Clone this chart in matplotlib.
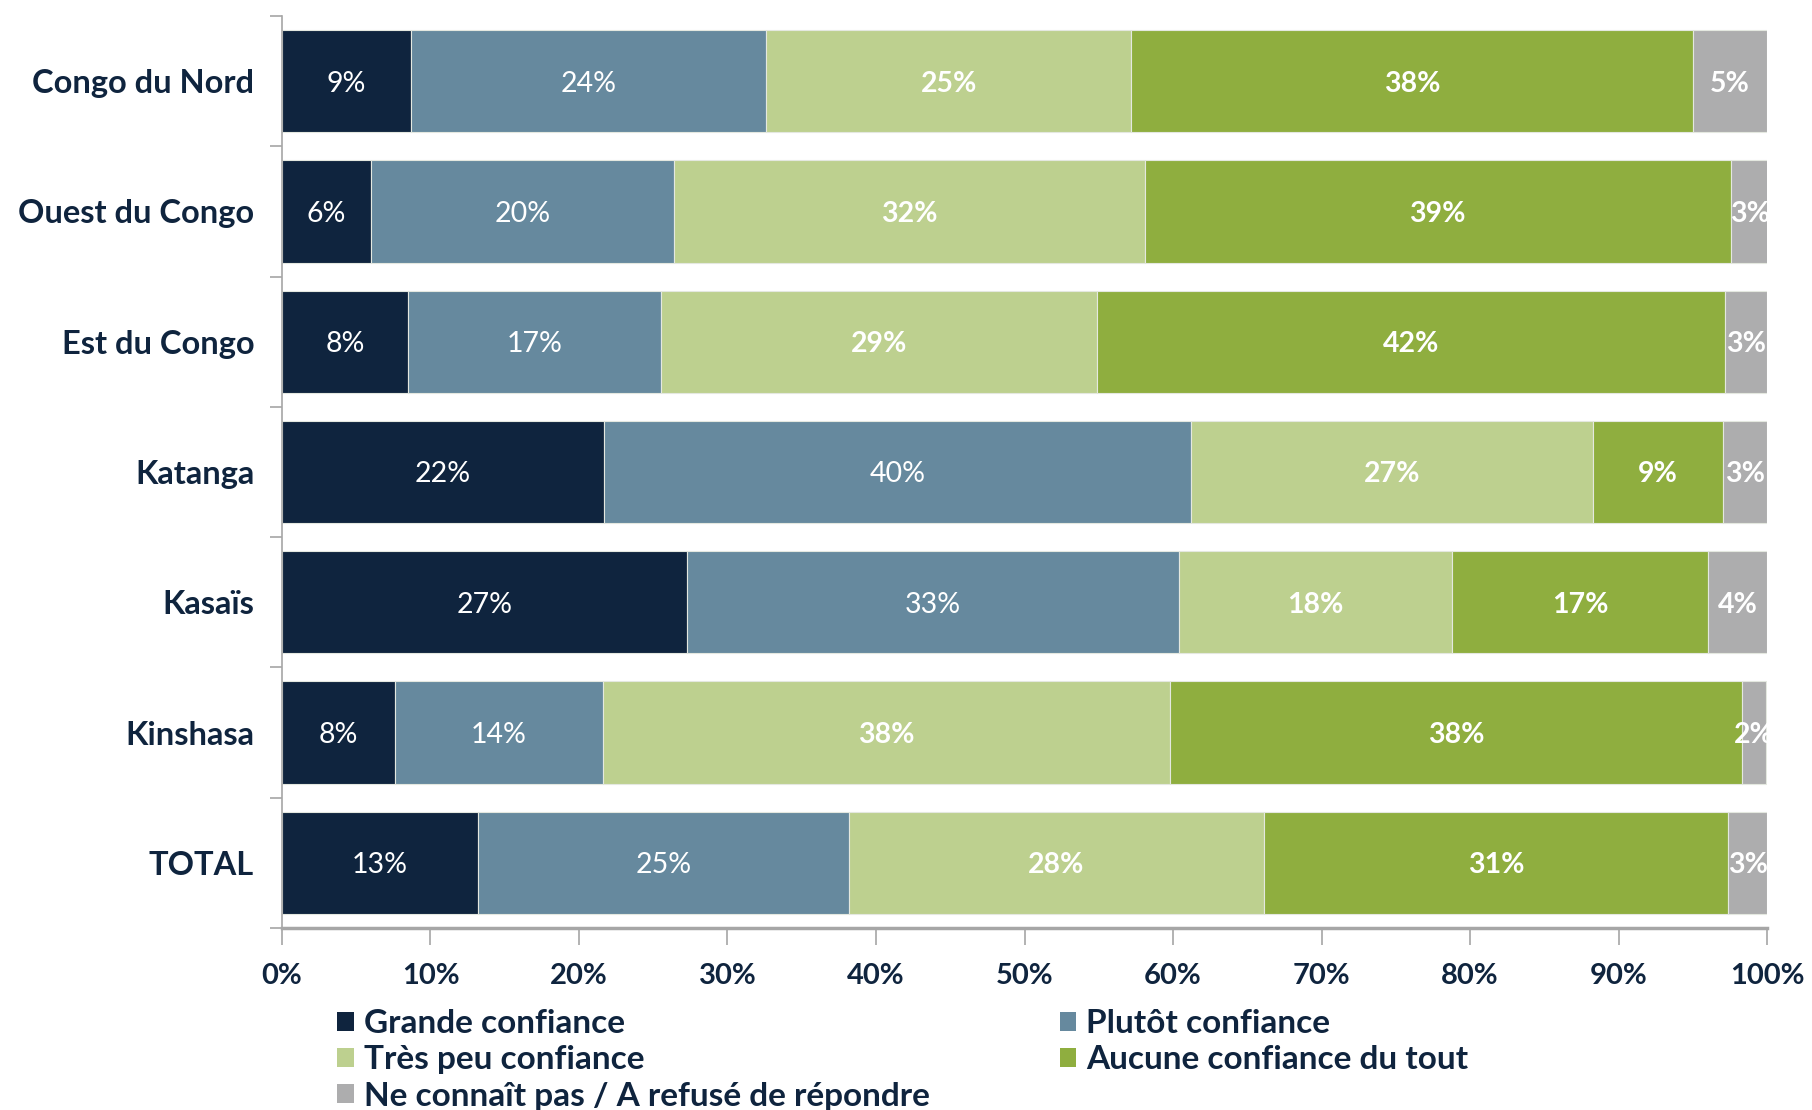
import matplotlib
matplotlib.use("Agg")
import matplotlib.pyplot as plt
from matplotlib.patches import Patch
import numpy as np

# Données
regions = ['Congo du Nord', 'Ouest du Congo', 'Est du Congo', 'Katanga',
           'Kasaïs', 'Kinshasa', 'TOTAL']
grande = [8.7, 6.0, 8.5, 21.7, 27.3, 7.6, 13.2]
plutot = [23.9, 20.4, 17.0, 39.5, 33.1, 14.0, 25.0]
tres_peu = [24.6, 31.7, 29.4, 27.1, 18.4, 38.2, 27.9]
aucune = [37.8, 39.45, 42.3, 8.7, 17.2, 38.5, 31.3]
ne_sait = [5.0, 2.6, 2.8, 3.0, 4.0, 1.6, 2.6]

series_names = ['Grande confiance', 'Plutôt confiance', 'Très peu confiance',
                'Aucune confiance du tout', 'Ne connaît pas / A refusé de répondre']
series = [grande, plutot, tres_peu, aucune, ne_sait]
colors = ['#0f243e', '#66899e', '#bdd08f', '#8fae3f', '#adadae']
bold_labels = [False, False, True, True, True]

navy = '#0f243e'
plt.rcParams['font.family'] = ['Lato', 'DejaVu Sans']

fig = plt.figure(figsize=(18.12, 11.1), dpi=100)
ax = fig.add_axes([0.1556, 0.164, 0.8196, 0.8216])

y = np.arange(len(regions))[::-1]
left = np.zeros(len(regions))
for vals, col, name, bold in zip(series, colors, series_names, bold_labels):
    vals = np.array(vals)
    ax.barh(y, vals, left=left, height=0.785, color=col, edgecolor='#e4e8e0',
            linewidth=0.8, label=name)
    for yi, l, v in zip(y, left, vals):
        ax.text(l + v / 2, yi, f'{v:.0f}%', ha='center', va='center_baseline',
                color='white', fontsize=20.5,
                fontweight='bold' if bold else 'normal')
    left += vals

ax.set_xlim(0, 100)
ax.set_ylim(-0.5, 6.5)
ax.set_xticks(np.arange(0, 101, 10))
ax.set_xticklabels([f'{t}%' for t in range(0, 101, 10)], fontsize=21,
                   fontweight='bold', color=navy)
ax.set_yticks(y)
ax.set_yticklabels(regions, fontsize=23.5, fontweight='bold', color=navy)
ax.tick_params(axis='y', length=0, pad=20)
ax.set_yticks(np.arange(-0.5, 7, 1), minor=True)
ax.tick_params(axis='y', which='minor', length=9, color='#a6a6a6', width=1.2)
ax.tick_params(axis='x', length=12, color='#a6a6a6', width=1.2, pad=13)

for s in ['top', 'right']:
    ax.spines[s].set_visible(False)
ax.spines['left'].set_color('#a6a6a6')
ax.spines['left'].set_linewidth(1.2)
ax.spines['bottom'].set_color('#a6a6a6')
ax.spines['bottom'].set_linewidth(2.5)

# Légende (ordre colonne par colonne)
order = [0, 2, 4, 1, 3]
handles = [Patch(facecolor=colors[i], edgecolor='none') for i in order]
labels = [series_names[i] for i in order]
leg = fig.legend(handles, labels, ncol=2, loc='upper left',
                 bbox_to_anchor=(0.186, 0.091), frameon=False,
                 prop={'size': 24, 'weight': 'bold'},
                 handlelength=0.5, handleheight=0.5, handletextpad=0.3,
                 labelspacing=0.22, columnspacing=3.9, borderpad=0,
                 borderaxespad=0)
for t in leg.get_texts():
    t.set_color(navy)

fig.savefig('out.png', dpi=100)
